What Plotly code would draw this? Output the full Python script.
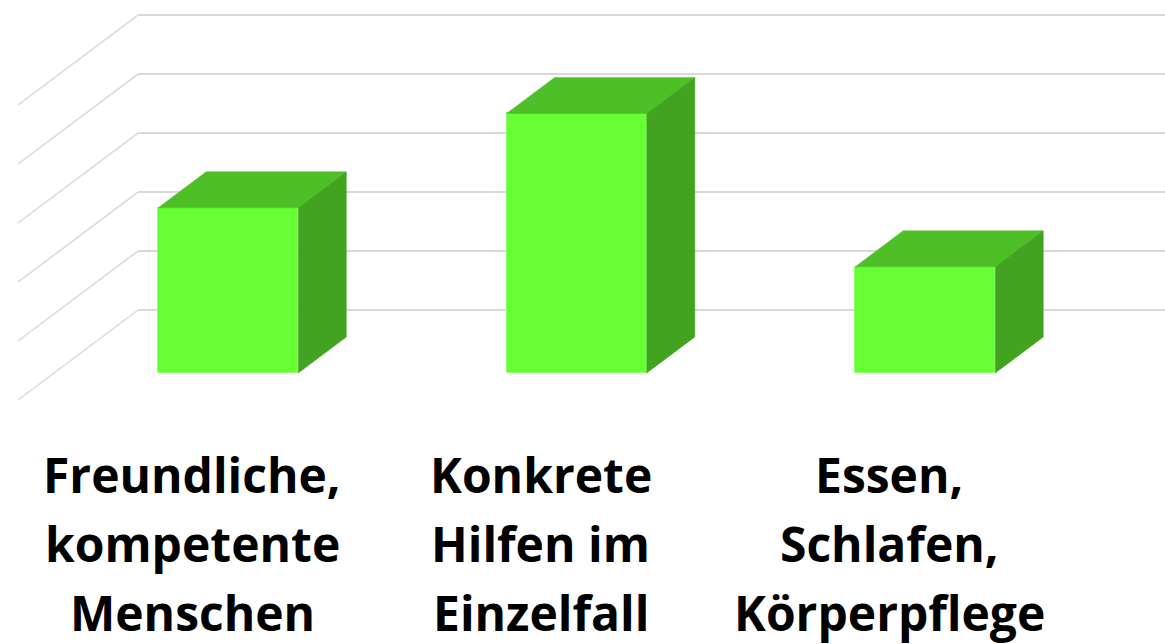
import plotly.graph_objects as go

# Category labels, one list of lines per column
label_lines = [
    ["Freundliche,", "kompetente", "Menschen"],
    ["Konkrete", "Hilfen im", "Einzelfall"],
    ["Essen,", "Schlafen,", "Körperpflege"],
]
values = [28, 44, 18]
grid_values = [0, 10, 20, 30, 40, 50]

# Oblique projection of the 3D floor, in data units
DEPTH_DX = 0.3443   # horizontal shift from front to back wall
DEPTH_DY = 15.25    # vertical shift from front to back wall
BAR_FRONT = 0.30    # bar front face position (fraction of depth)
BAR_DEPTH = 0.40    # bar depth (fraction of depth)
BAR_W = 0.402

FRONT = "#66FF33"
TOP = "#4FBF27"
SIDE = "#42A321"
GRID = "#d9d9d9"

fig = go.Figure()

# Back wall and side wall gridlines
x_left = -0.5
x_back = x_left + DEPTH_DX
x_right = len(values) - 0.5 + DEPTH_DX
shapes = []
for g in grid_values:
    shapes.append(dict(type="line", xref="x", yref="y", layer="below",
                       x0=x_back, y0=g + DEPTH_DY, x1=x_right, y1=g + DEPTH_DY,
                       line=dict(color=GRID, width=2)))
    shapes.append(dict(type="line", xref="x", yref="y", layer="below",
                       x0=x_left, y0=g, x1=x_back, y1=g + DEPTH_DY,
                       line=dict(color=GRID, width=1.5)))

base = BAR_FRONT * DEPTH_DY
shift = BAR_FRONT * DEPTH_DX
bdx = BAR_DEPTH * DEPTH_DX
bdy = BAR_DEPTH * DEPTH_DY
xc = [i + shift for i in range(len(values))]

# Front faces
fig.add_trace(go.Bar(
    x=xc, y=values, base=[base] * len(values), width=BAR_W,
    marker=dict(color=FRONT, line=dict(color="#8cff6a", width=1)),
    hoverinfo="skip", showlegend=False,
))

# Top and side faces
for x, v in zip(xc, values):
    l, r = x - BAR_W / 2, x + BAR_W / 2
    top = base + v
    fig.add_trace(go.Scatter(
        x=[l, r, r + bdx, l + bdx, l],
        y=[top, top, top + bdy, top + bdy, top],
        fill="toself", fillcolor=TOP, mode="lines",
        line=dict(color=TOP, width=0.5), hoverinfo="skip", showlegend=False,
    ))
    fig.add_trace(go.Scatter(
        x=[r, r, r + bdx, r + bdx, r],
        y=[base, top, top + bdy, base + bdy, base],
        fill="toself", fillcolor=SIDE, mode="lines",
        line=dict(color=SIDE, width=0.5), hoverinfo="skip", showlegend=False,
    ))

# Category labels under the floor
H = 644
line_centers_px = [474, 543, 612]
annotations = []
for i, lines in enumerate(label_lines):
    for txt, cy in zip(lines, line_centers_px):
        annotations.append(dict(
            x=i, xref="x", y=1 - cy / H, yref="paper",
            text=txt, showarrow=False, xanchor="center", yanchor="middle",
            font=dict(family="Open Sans", size=48, weight="bold", color="black"),
        ))

fig.update_layout(
    width=1165, height=H,
    margin=dict(l=0, r=0, t=0, b=0),
    paper_bgcolor="white", plot_bgcolor="white",
    xaxis=dict(range=[-0.5517, 2.7913], visible=False, fixedrange=True),
    yaxis=dict(range=[-41.36, 67.80], visible=False, fixedrange=True),
    shapes=shapes, annotations=annotations,
    bargap=0,
)

fig.write_html("out.html")
